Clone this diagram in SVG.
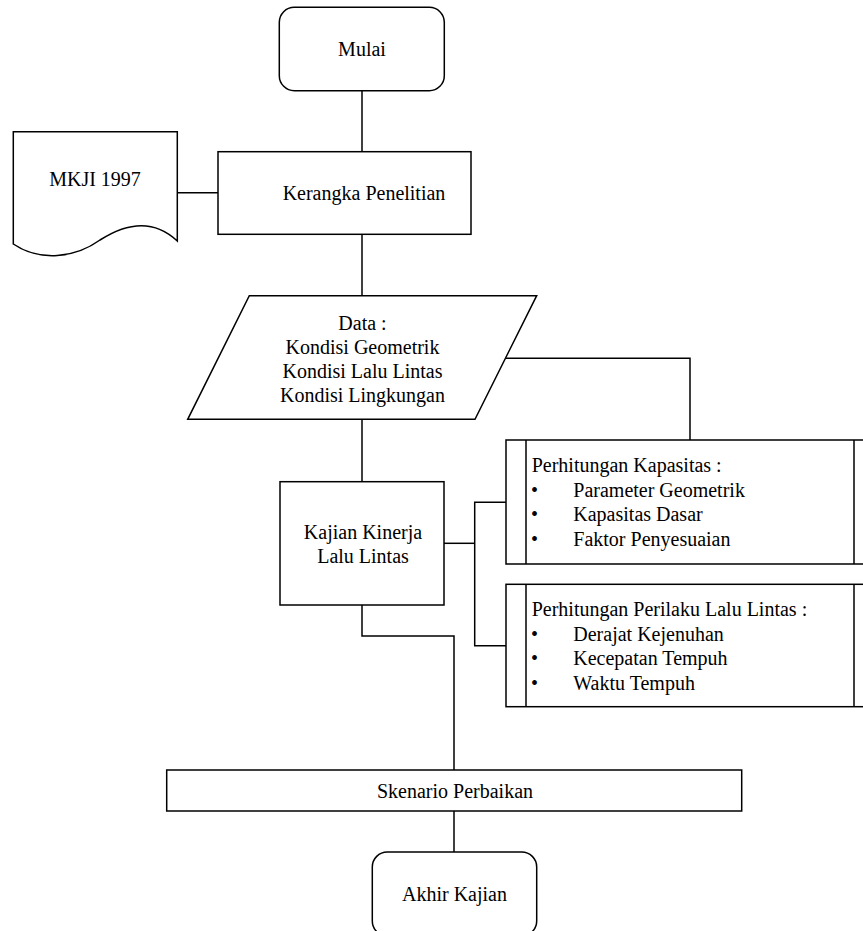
<svg xmlns="http://www.w3.org/2000/svg" width="863" height="931" viewBox="0 0 863 931">
<style>
.s{fill:#fff;stroke:#000;stroke-width:1.5}
.c{fill:none;stroke:#000;stroke-width:1.5}
text{font-family:"Liberation Serif","Times New Roman",serif;font-size:20px;fill:#000}
.m{text-anchor:middle}
</style>
<rect width="863" height="931" fill="#fff"/>
<g id="connectors">
<path class="c" d="M362,90.7V151.7"/>
<path class="c" d="M177.3,192.7H218"/>
<path class="c" d="M362,234.3V295.7"/>
<path class="c" d="M362,419.3V481.7"/>
<path class="c" d="M505.5,358.3H690V440"/>
<path class="c" d="M444,543.3H474.7"/>
<path class="c" d="M506,502.3H474.7V645.8H506"/>
<path class="c" d="M362,605V636H454V770"/>
<path class="c" d="M454,811V852"/>
</g>
<g id="mulai">
<rect class="s" x="279.3" y="7.3" width="165" height="83.4" rx="15"/>
<text class="m" x="362" y="56">Mulai</text>
</g>
<g id="mkji">
<path class="s" d="M13.3,131.7H177.3V241C155,220 128,222 100,240C75,258 40,262 13.3,244Z"/>
<text class="m" x="95" y="186">MKJI 1997</text>
</g>
<g id="kerangka">
<rect class="s" x="218" y="151.7" width="253" height="82.6"/>
<text class="m" x="364" y="199.5">Kerangka Penelitian</text>
</g>
<g id="data">
<path class="s" d="M249.3,295.7H536.7L475,419.3H187.7Z"/>
<text class="m" x="362.5" y="329.5">Data :</text>
<text class="m" x="362.5" y="353.7">Kondisi Geometrik</text>
<text class="m" x="362.5" y="378">Kondisi Lalu Lintas</text>
<text class="m" x="362.5" y="402">Kondisi Lingkungan</text>
</g>
<g id="kajian">
<rect class="s" x="280" y="481.7" width="164" height="123.3"/>
<text class="m" x="363" y="539">Kajian Kinerja</text>
<text class="m" x="363" y="563.3">Lalu Lintas</text>
</g>
<g id="kapasitas">
<rect class="s" x="506" y="440" width="370" height="124"/>
<path class="c" d="M526,440V564M854,440V564"/>
<text x="531.7" y="472">Perhitungan Kapasitas :</text>
<text x="531" y="496.5">•</text><text x="573.3" y="496.5">Parameter Geometrik</text>
<text x="531" y="521">•</text><text x="573.3" y="521">Kapasitas Dasar</text>
<text x="531" y="545.5">•</text><text x="573.3" y="545.5">Faktor Penyesuaian</text>
</g>
<g id="perilaku">
<rect class="s" x="506" y="584.3" width="370" height="122.4"/>
<path class="c" d="M526,584.3V706.7M854,584.3V706.7"/>
<text x="531.7" y="616">Perhitungan Perilaku Lalu Lintas :</text>
<text x="531" y="640.5">•</text><text x="573.3" y="640.5">Derajat Kejenuhan</text>
<text x="531" y="665">•</text><text x="573.3" y="665">Kecepatan Tempuh</text>
<text x="531" y="689.5">•</text><text x="573.3" y="689.5">Waktu Tempuh</text>
</g>
<g id="skenario">
<rect class="s" x="166.7" y="770" width="575" height="41"/>
<text class="m" x="455" y="798.3">Skenario Perbaikan</text>
</g>
<g id="akhir">
<rect class="s" x="372.3" y="852" width="164.4" height="84" rx="15"/>
<text class="m" x="454.5" y="900.7">Akhir Kajian</text>
</g>
</svg>
